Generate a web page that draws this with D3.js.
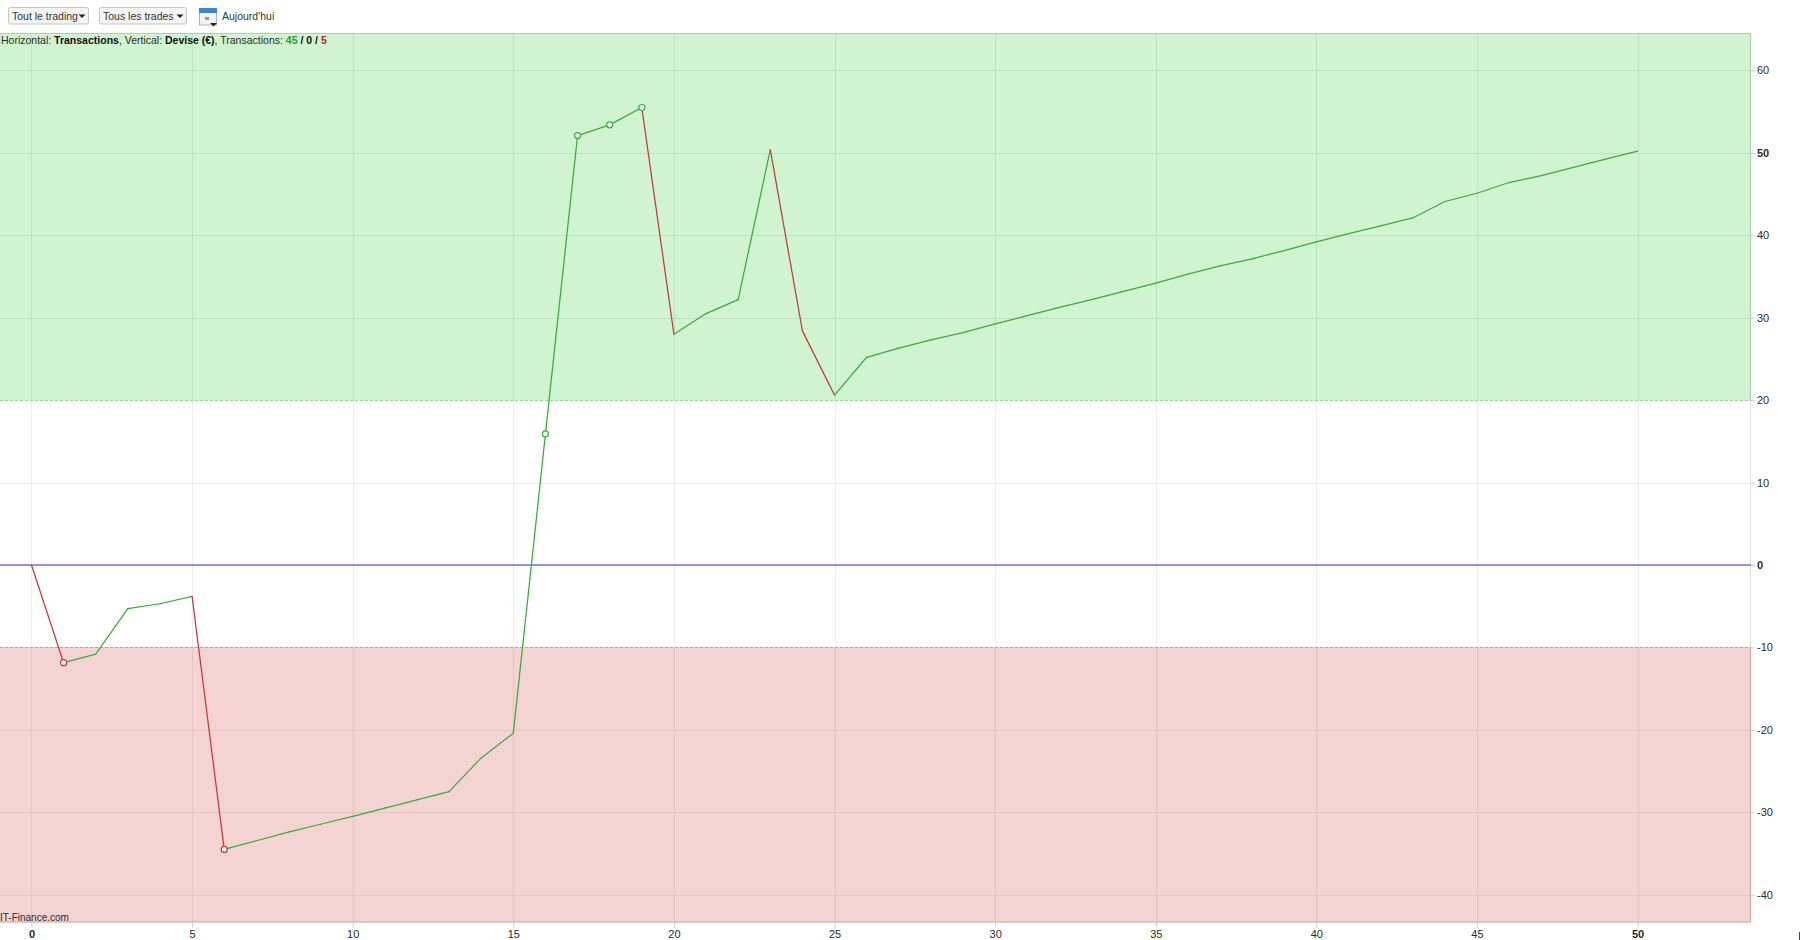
<!DOCTYPE html>
<html lang="fr">
<head>
<meta charset="utf-8">
<title>Equity chart</title>
<script src="https://cdn.jsdelivr.net/npm/d3@7"></script>
<style>
html,body{margin:0;padding:0;background:#fff;overflow:hidden}
svg{display:block}
text{font-family:"Liberation Sans",Arial,sans-serif;font-size:10.5px;fill:#2b2b2b}
.tick text{font-size:11px}
</style>
</head>
<body>
<svg id="chart" width="1800" height="940"></svg>
<script>
const equity = [0,-11.85,-10.8,-5.3,-4.7,-3.8,-34.5,-33.45,-32.4,-31.45,-30.5,-29.5,-28.5,-27.5,-23.4,-20.4,15.9,52.1,53.4,55.5,28.0,30.5,32.2,50.4,28.4,20.6,25.2,26.3,27.3,28.2,29.25,30.25,31.25,32.2,33.2,34.2,35.3,36.3,37.15,38.15,39.2,40.2,41.15,42.1,44.1,45.1,46.4,47.25,48.25,49.25,50.2];
const markedTrades = [1,6,16,17,18,19];
const xTickValues = [0,5,10,15,20,25,30,35,40,45,50];
const yTickValues = [60,50,40,30,20,10,0,-10,-20,-30,-40];
const boldTicks = [0,50];
const xDomain = [-0.98,53.53];
const yDomain = [64.54,-43.37];
const upperBand = 20;
const lowerBand = -10;
const buttonLabels = ["Tout le trading","Tous les trades"];
const todayLabel = "Aujourd'hui";
const infoParts = [["Horizontal: ",400,"#2b2b2b"],["Transactions",700,"#111"],[", Vertical: ",400,"#2b2b2b"],["Devise (€)",700,"#111"],[", Transactions: ",400,"#2b2b2b"],["45",700,"#2aa02a"],[" / ",700,"#111"],["0",700,"#111"],[" / ",700,"#111"],["5",700,"#b52a2a"]];
const watermark = "IT-Finance.com";

const GREEN="#3aab3a", RED="#c23a3e";
const left=0,right=1751,top_=33,bottom=922.5;
const svg=d3.select("#chart");
const x=d3.scaleLinear().domain(xDomain).range([left,right]);
const y=d3.scaleLinear().domain(yDomain).range([top_,bottom]);

// bands
svg.append("rect").attr("x",left).attr("y",top_).attr("width",right-left).attr("height",y(upperBand)-top_).attr("fill","#d0f3d0");
svg.append("rect").attr("x",left).attr("y",y(lowerBand)).attr("width",right-left).attr("height",bottom-y(lowerBand)).attr("fill","#f4d3d3");

// grid
const snap=v=>Math.round(v)+0.5;
svg.append("g").selectAll("line").data(xTickValues).join("line")
  .attr("x1",d=>snap(x(d))).attr("x2",d=>snap(x(d))).attr("y1",top_).attr("y2",bottom)
  .attr("stroke","#000").attr("stroke-opacity",0.07);
svg.append("g").selectAll("line").data(yTickValues).join("line")
  .attr("y1",d=>snap(y(d))).attr("y2",d=>snap(y(d))).attr("x1",left).attr("x2",right)
  .attr("stroke","#000").attr("stroke-opacity",0.07);

// frame
svg.append("path").attr("fill","none").attr("stroke","#a8d4a8").attr("stroke-width",1.2)
  .attr("d",`M${left},${top_+.5}H${right-.5}V${y(upperBand)}`);
svg.append("path").attr("fill","none").attr("stroke","#d0a8a8").attr("stroke-width",1.2)
  .attr("d",`M${right-.5},${y(lowerBand)}V${bottom-.5}H${left}`);
svg.append("path").attr("fill","none").attr("stroke","#ddd").attr("d",`M${right-.5},${y(upperBand)}V${y(lowerBand)}`);

// threshold lines
svg.append("line").attr("x1",left).attr("x2",right).attr("y1",snap(y(upperBand))).attr("y2",snap(y(upperBand))).attr("stroke","#8fdf8f").attr("stroke-dasharray","3,2");
svg.append("line").attr("x1",left).attr("x2",right).attr("y1",snap(y(lowerBand))).attr("y2",snap(y(lowerBand))).attr("stroke","#df8f95").attr("stroke-dasharray","3,2");
// zero line
svg.append("line").attr("x1",left).attr("x2",right).attr("y1",y(0)).attr("y2",y(0)).attr("stroke","#6f6fe6").attr("stroke-width",1.3);

// axes
const xAxis=svg.append("g").attr("transform",`translate(0,${bottom})`)
  .call(d3.axisBottom(x).tickValues(xTickValues).tickSize(5).tickPadding(3).tickFormat(d3.format("d")));
const yAxis=svg.append("g").attr("transform",`translate(${right},0)`)
  .call(d3.axisRight(y).tickValues(yTickValues).tickSize(4).tickPadding(2).tickFormat(d=>String(d)));
[xAxis,yAxis].forEach(a=>{
  a.select(".domain").remove();
  a.selectAll(".tick line").attr("stroke","#ccc");
  a.attr("font-family",null).attr("font-size",null);
  a.selectAll(".tick text").attr("fill","#2b2b2b")
    .style("font-weight",d=>boldTicks.includes(d)?700:400);
});

// equity curve, segment per trade
const segments=d3.pairs(equity.map((v,i)=>({i,v})));
svg.append("g").selectAll("line").data(segments).join("line")
  .attr("x1",d=>x(d[0].i)).attr("y1",d=>y(d[0].v))
  .attr("x2",d=>x(d[1].i)).attr("y2",d=>y(d[1].v))
  .attr("stroke",d=>d[1].v>=d[0].v?GREEN:RED).attr("stroke-width",1.25).attr("stroke-linecap","round");
svg.append("g").selectAll("circle").data(markedTrades).join("circle")
  .attr("cx",d=>x(d)).attr("cy",d=>y(equity[d])).attr("r",3)
  .attr("fill","#fff").attr("stroke",d=>equity[d]<0?RED:GREEN).attr("stroke-width",1.2);

// texts inside the plot
const info=svg.append("text").attr("x",1).attr("y",44);
info.selectAll("tspan").data(infoParts).join("tspan").text(d=>d[0])
  .attr("font-weight",d=>d[1]).style("fill",d=>d[2]);
info.style("white-space","pre");
svg.append("text").attr("x",0).attr("y",921).style("font-size","10px").text(watermark);

// toolbar
const btnX=[8,99], btnW=[80,87];
const tb=svg.append("g");
buttonLabels.forEach((label,i)=>{
  tb.append("rect").attr("x",btnX[i]+.5).attr("y",7.5).attr("width",btnW[i]).attr("height",16.5).attr("rx",2)
    .attr("fill","#f4f4f4").attr("stroke","#c4c4c4");
  tb.append("text").attr("x",btnX[i]+4).attr("y",20).text(label).style("fill","#333");
  const cx=btnX[i]+btnW[i]-6;
  tb.append("path").attr("d",`M${cx-3.5},14.5h7l-3.5,3.5z`).attr("fill","#222");
});
// calendar icon
const ic=tb.append("g").attr("transform","translate(199,8)");
ic.append("rect").attr("x",.5).attr("y",.5).attr("width",17).attr("height",16.5).attr("fill","#f3f4f6").attr("stroke","#aab4c0");
ic.append("rect").attr("x",0).attr("y",0).attr("width",18).attr("height",5).attr("fill","#3f86c6");
ic.append("rect").attr("x",6).attr("y",9).attr("width",4).attr("height",3).attr("fill","#e37a86");
ic.append("path").attr("d","M11,15h7l-3.5,3.5z").attr("fill","#222");
tb.append("text").attr("x",222).attr("y",20).text(todayLabel).style("fill","#333");
// stray corner mark present in the reference
svg.append("rect").attr("x",1799).attr("y",932).attr("width",1).attr("height",8).attr("fill","#444");
</script>
</body>
</html>
